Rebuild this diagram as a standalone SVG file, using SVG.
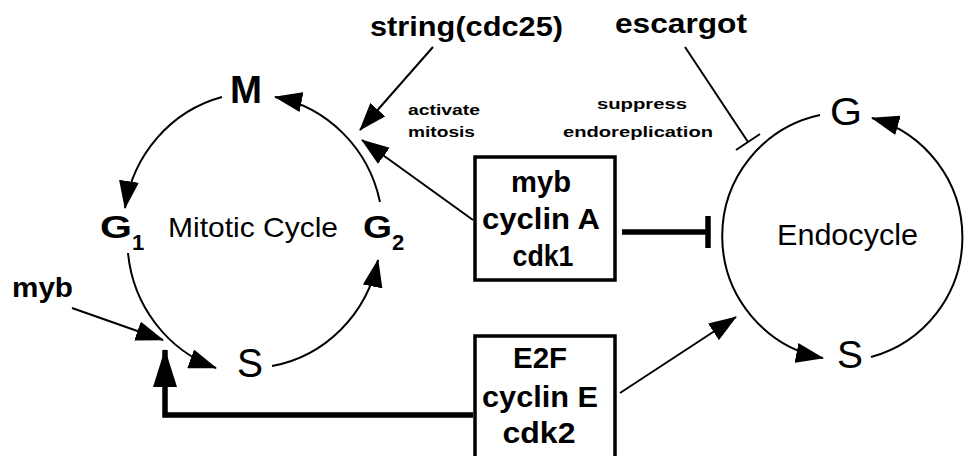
<svg xmlns="http://www.w3.org/2000/svg" width="968" height="456" viewBox="0 0 968 456">
<style>
text{font-family:"Liberation Sans",Arial,sans-serif;fill:#000}
.b{font-weight:bold}
.lbl{font-size:29px;font-weight:bold;text-anchor:middle}
.sm{font-size:15px;font-weight:bold}
.ln{fill:none;stroke:#000;stroke-width:2}
.thick{fill:none;stroke:#000;stroke-width:5.5}
.box{fill:#fff;stroke:#000;stroke-width:3.5}
</style>
<defs>
<marker id="ah" markerUnits="userSpaceOnUse" viewBox="0 0 28 20" refX="27" refY="10" markerWidth="28" markerHeight="20" orient="auto">
<path d="M0 0 L28 10 L0 20 Z" fill="#000"/>
</marker>
<marker id="ahT" markerUnits="userSpaceOnUse" viewBox="0 0 38 24" refX="37" refY="12" markerWidth="38" markerHeight="24" orient="auto">
<path d="M0 0 L38 12 L0 24 Z" fill="#000"/>
</marker>
</defs>
<rect width="968" height="456" fill="#fff"/>

<g id="connectors">
<!-- mitotic cycle -->
<path class="ln" d="M222 97 A132 136 0 0 0 125 208" marker-end="url(#ah)"/>
<path class="ln" d="M128 253 A132 136 0 0 0 216 368" marker-end="url(#ah)"/>
<path class="ln" d="M272 366 A132 136 0 0 0 378 260" marker-end="url(#ah)"/>
<path class="ln" d="M380 202 A132 136 0 0 0 275 97" marker-end="url(#ah)"/>
<!-- endocycle -->
<path class="ln" d="M820 115 A124 124 0 0 0 823 358" marker-end="url(#ah)"/>
<path class="ln" d="M871 357 A124 124 0 0 0 872 118" marker-end="url(#ah)"/>
<!-- regulators -->
<path class="ln" d="M433 47 L360 130" marker-end="url(#ah)"/>
<path class="ln" d="M473 220 L362 140" marker-end="url(#ah)"/>
<path class="ln" d="M72 308 L163 340" marker-end="url(#ah)"/>
<path class="ln" d="M620 393 L736 317" marker-end="url(#ah)"/>
<path class="ln" d="M685 47 L748 142 M736 150 L760 134"/>
<path class="thick" d="M622 232 L708 232 M708 216 L708 248"/>
<path class="thick" d="M473 415 L165 415 L165 350" marker-end="url(#ahT)"/>
</g>

<g id="node-M"><text class="b" x="230" y="103" font-size="38" textLength="32" lengthAdjust="spacingAndGlyphs">M</text></g>
<g id="node-G1"><text class="b" x="100" y="238" font-size="32" textLength="32" lengthAdjust="spacingAndGlyphs">G</text><text x="132" y="250" font-size="22" class="b">1</text></g>
<g id="node-S-mitotic"><text x="237" y="377" font-size="40" textLength="26" lengthAdjust="spacingAndGlyphs">S</text></g>
<g id="node-G2"><text class="b" x="363" y="238" font-size="32" textLength="29" lengthAdjust="spacingAndGlyphs">G</text><text x="392" y="250" font-size="22" class="b">2</text></g>
<g id="label-mitotic"><text x="168" y="237" font-size="28" textLength="170" lengthAdjust="spacingAndGlyphs">Mitotic Cycle</text></g>

<g id="node-G-endo"><text x="830" y="125" font-size="38" textLength="32" lengthAdjust="spacingAndGlyphs">G</text></g>
<g id="node-S-endo"><text x="837" y="368" font-size="38" textLength="26" lengthAdjust="spacingAndGlyphs">S</text></g>
<g id="label-endocycle"><text x="777" y="245" font-size="30" textLength="141" lengthAdjust="spacingAndGlyphs">Endocycle</text></g>

<g id="node-string"><text class="b" x="370" y="36" font-size="28" textLength="193" lengthAdjust="spacingAndGlyphs">string(cdc25)</text></g>
<g id="node-escargot"><text class="b" x="615" y="33" font-size="28" textLength="132" lengthAdjust="spacingAndGlyphs">escargot</text></g>
<g id="node-myb"><text class="b" x="12" y="297" font-size="28" textLength="61" lengthAdjust="spacingAndGlyphs">myb</text></g>

<g id="label-activate">
<text class="sm" x="408" y="115" textLength="72" lengthAdjust="spacingAndGlyphs">activate</text>
<text class="sm" x="408" y="137" textLength="67" lengthAdjust="spacingAndGlyphs">mitosis</text>
</g>
<g id="label-suppress">
<text class="sm" x="597" y="109" textLength="90" lengthAdjust="spacingAndGlyphs">suppress</text>
<text class="sm" x="563" y="137" textLength="150" lengthAdjust="spacingAndGlyphs">endoreplication</text>
</g>

<g id="node-box1">
<rect class="box" x="475" y="157" width="140" height="123"/>
<text class="lbl" x="541" y="192" textLength="60" lengthAdjust="spacingAndGlyphs">myb</text>
<text class="lbl" x="541" y="229" textLength="118" lengthAdjust="spacingAndGlyphs">cyclin A</text>
<text class="lbl" x="543" y="266" textLength="61" lengthAdjust="spacingAndGlyphs">cdk1</text>
</g>
<g id="node-box2">
<rect class="box" x="475" y="336" width="140" height="130"/>
<text class="lbl" x="540" y="368" textLength="54" lengthAdjust="spacingAndGlyphs">E2F</text>
<text class="lbl" x="540" y="407" textLength="116" lengthAdjust="spacingAndGlyphs">cyclin E</text>
<text class="lbl" x="539" y="443" textLength="73" lengthAdjust="spacingAndGlyphs">cdk2</text>
</g>
</svg>
